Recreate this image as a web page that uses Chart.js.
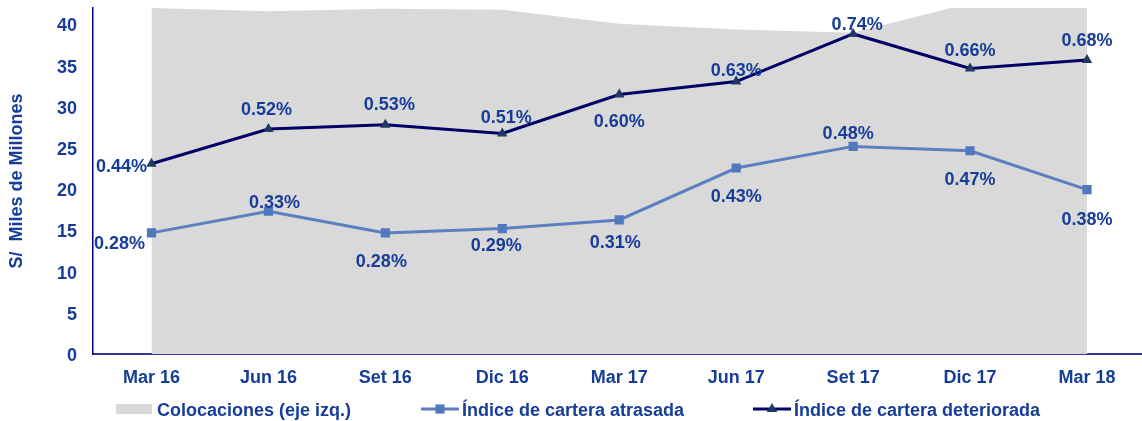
<!DOCTYPE html>
<html>
<head>
<meta charset="utf-8">
<script src="https://cdn.jsdelivr.net/npm/chart.js@4.4.0/dist/chart.umd.min.js"></script>
<style>
  html, body { margin: 0; padding: 0; background: #fff; overflow: hidden; }
  .graphBox { position: relative; width: 1152px; height: 421px; }
</style>
</head>
<body>
<div class="graphBox">
  <canvas id="mixedChart" width="1152" height="421"></canvas>
</div>
<script>
// data
var periods = ["Mar 16", "Jun 16", "Set 16", "Dic 16", "Mar 17", "Jun 17", "Set 17", "Dic 17", "Mar 18"];
var colocaciones = [42.0, 41.6, 41.9, 41.8, 40.1, 39.4, 39.0, 42.6, 43.5];
var carteraAtrasada = [0.28, 0.33, 0.28, 0.29, 0.31, 0.43, 0.48, 0.47, 0.38];
var carteraDeteriorada = [0.44, 0.52, 0.53, 0.51, 0.60, 0.63, 0.74, 0.66, 0.68];
var yTicks = [0, 5, 10, 15, 20, 25, 30, 35, 40];

// where each % label sits relative to its point (dx, dy)
var atrasadaLabelPos = [[-32, 8], [6, -11], [-4, 26], [-6, 14], [-4, 20], [0, 26], [-5, -15], [0, 26], [0, 27]];
var deterioradaLabelPos = [[-30, 0], [-2, -22], [4, -23], [4, -18], [0, 25], [0, -13], [4, -12], [0, -21], [0, -22]];

var textColor = "#163d99";
var fontFamily = "'Liberation Sans', Arial, sans-serif";
var font18 = "bold 18px " + fontFamily;
var textShift = 3; // canvas 'middle' sits a bit high for this font

var pointLabels = {
    id: "pointLabels",
    afterDatasetsDraw: function (chart) {
        var ctx = chart.ctx;
        ctx.save();
        ctx.font = font18;
        ctx.fillStyle = textColor;
        ctx.textAlign = "center";
        ctx.textBaseline = "middle";
        chart.data.datasets.forEach(function (ds, i) {
            if (!ds.labelPos) return;
            chart.getDatasetMeta(i).data.forEach(function (pt, j) {
                var off = ds.labelPos[j];
                ctx.fillText(ds.data[j].toFixed(2) + "%", pt.x + off[0], pt.y + off[1] + textShift);
            });
        });
        ctx.restore();
    }
};

// legend drawn by hand so the markers look like the original
var legendX = [116, 421, 753];
var bottomLegend = {
    id: "bottomLegend",
    afterDraw: function (chart) {
        var ctx = chart.ctx;
        var y = 409;
        var ds = chart.data.datasets;
        ctx.save();
        ctx.font = font18;
        ctx.textBaseline = "middle";
        ctx.textAlign = "left";

        // area swatch
        ctx.fillStyle = ds[2].backgroundColor;
        ctx.fillRect(legendX[0], y - 5, 36, 10);
        ctx.fillStyle = textColor;
        ctx.fillText(ds[2].label, legendX[0] + 41, y + 2);

        [0, 1].forEach(function (k) {
            var x0 = legendX[k + 1];
            ctx.strokeStyle = ds[k].borderColor;
            ctx.lineWidth = 3;
            ctx.beginPath();
            ctx.moveTo(x0, y);
            ctx.lineTo(x0 + 38, y);
            ctx.stroke();
            ctx.fillStyle = ds[k].pointBackgroundColor;
            Chart.helpers.drawPoint(ctx, {
                pointStyle: ds[k].pointStyle,
                radius: ds[k].pointRadius,
                borderWidth: 0
            }, x0 + 19, y);
            ctx.fillStyle = textColor;
            ctx.fillText(ds[k].label, x0 + 41, y + 2);
        });
        ctx.restore();
    }
};

var ctx = document.getElementById("mixedChart").getContext("2d");
var mixedChart = new Chart(ctx, {
    type: "line",
    data: {
        labels: periods,
        datasets: [{
            label: "Índice de cartera atrasada",
            data: carteraAtrasada,
            yAxisID: "y1",
            borderColor: "#5b80c0",
            borderWidth: 3,
            pointStyle: "rect",
            pointRadius: 6.5,
            pointBackgroundColor: "#5079bd",
            pointBorderWidth: 0,
            tension: 0,
            order: 1,
            labelPos: atrasadaLabelPos
        }, {
            label: "Índice de cartera deteriorada",
            data: carteraDeteriorada,
            yAxisID: "y1",
            borderColor: "#000066",
            borderWidth: 3,
            pointStyle: "triangle",
            pointRadius: 6,
            pointBackgroundColor: "#1f3864",
            pointBorderWidth: 0,
            tension: 0,
            order: 2,
            labelPos: deterioradaLabelPos
        }, {
            label: "Colocaciones (eje izq.)",
            data: colocaciones,
            yAxisID: "y",
            backgroundColor: "#d9d9d9",
            borderWidth: 0,
            pointRadius: 0,
            fill: "origin",
            tension: 0,
            order: 3
        }]
    },
    options: {
        responsive: false,
        animation: false,
        devicePixelRatio: 1,
        layout: { padding: { top: 8, left: 0, right: 0, bottom: 0 } },
        plugins: {
            legend: { display: false },
            tooltip: { enabled: false }
        },
        scales: {
            x: {
                offset: true,
                grid: { display: false, drawTicks: false },
                border: { display: true, color: "#3535a0", width: 2 },
                ticks: { color: textColor, font: { family: fontFamily, size: 18, weight: "bold" }, padding: 13, maxRotation: 0 },
                afterFit: function (scale) {
                    scale.height = 67;
                    scale.paddingLeft = 0;
                    scale.paddingRight = 0;
                }
            },
            y: {
                position: "left",
                min: 0,
                max: 42,
                grid: { display: false, drawTicks: false },
                border: { display: true, color: "#000080", width: 1.5 },
                ticks: { color: textColor, font: { family: fontFamily, size: 18, weight: "bold" }, padding: 16, labelOffset: 2 },
                afterBuildTicks: function (scale) {
                    scale.ticks = yTicks.map(function (v) { return { value: v }; });
                },
                title: {
                    display: true,
                    text: "S/  Miles de Millones",
                    color: textColor,
                    font: { family: fontFamily, size: 18, weight: "bold" },
                    padding: { top: 6, bottom: 0 }
                },
                afterFit: function (scale) {
                    scale.width = 93;
                    scale.paddingTop = 0;
                    scale.paddingBottom = 0;
                }
            },
            y1: {
                display: false,
                position: "right",
                min: 0,
                max: 0.8
            }
        }
    },
    plugins: [pointLabels, bottomLegend]
});
</script>
</body>
</html>
